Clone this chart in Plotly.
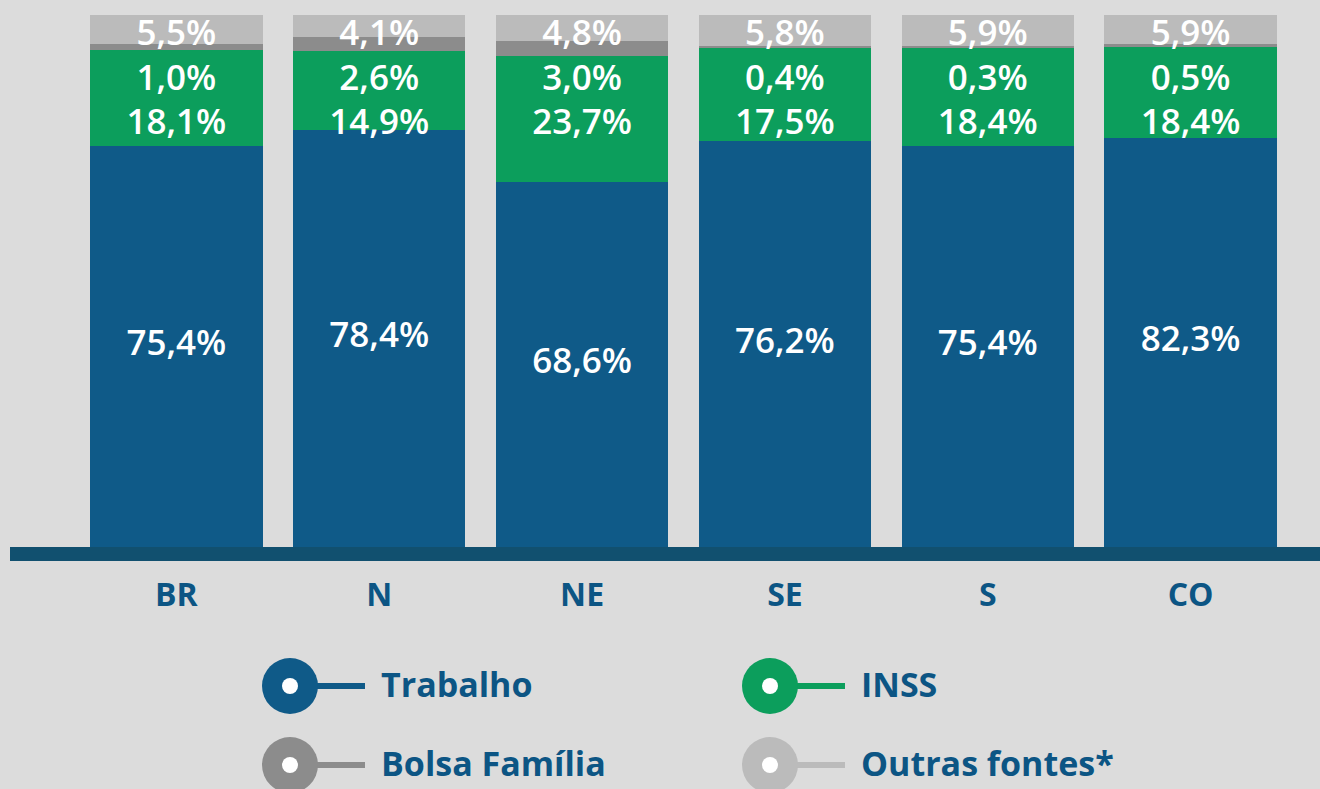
import plotly.graph_objects as go

# ---- data ----
regions = ["BR", "N", "NE", "SE", "S", "CO"]
trabalho = [75.4, 78.4, 68.6, 76.2, 75.4, 82.3]
inss = [18.1, 14.9, 23.7, 17.5, 18.4, 18.4]
bolsa = [1.0, 2.6, 3.0, 0.4, 0.3, 0.5]
outras = [5.5, 4.1, 4.8, 5.8, 5.9, 5.9]
series_names = ["Trabalho", "INSS", "Bolsa Família", "Outras fontes*"]

# ---- style ----
colors = ["#0f5a88", "#0c9e5c", "#8c8c8c", "#bbbbbb"]
bg = "#dcdcdc"
text_blue = "#0c5584"
W, H = 1320, 789
L, R, T, B = 75, 28, 15, 242  # margins in px
plot_w, plot_h = W - L - R, H - T - B

def px_x(x):
    return (x - L) / plot_w

def px_y(y):
    return (H - B - y) / plot_h

series = [trabalho, inss, bolsa, outras]
fig = go.Figure()
for name, vals, col in zip(series_names, series, colors):
    fig.add_trace(go.Bar(x=regions, y=vals, name=name, marker=dict(color=col, line=dict(width=0)),
                         hoverinfo="skip", showlegend=False))

# label positions derived from the (normalised) stacks, spread so they do not collide
lab_x, lab_y, lab_t = [], [], []
gap = 8.4
top_cap = 96.0
for i, reg in enumerate(regions):
    vals = [s[i] for s in series]
    tot = sum(vals)
    cum, mids = 0, []
    for v in vals:
        mids.append((cum + v / 2) / tot * 100)
        cum += v
    prev = top_cap + gap
    for k in range(len(vals) - 1, -1, -1):
        y = min(mids[k], prev - gap)
        prev = y
        lab_x.append(reg)
        lab_y.append(y)
        lab_t.append(f"{vals[k]:.1f}%".replace(".", ","))

fig.add_trace(go.Scatter(x=lab_x, y=lab_y, text=lab_t, mode="text", hoverinfo="skip", showlegend=False,
                         textfont=dict(color="white", size=35, family="Open Sans", weight=600)))

shapes = []
# baseline bar
shapes.append(dict(type="rect", xref="paper", yref="paper", x0=px_x(10), x1=px_x(1320),
                   y0=px_y(561), y1=px_y(547), fillcolor="#11506f", line=dict(width=0), layer="above"))

annotations = []
legend_items = [(290, 686, 0), (770, 686, 1), (290, 765, 2), (770, 765, 3)]
for cx, cy, k in legend_items:
    col = colors[k]
    shapes.append(dict(type="line", xref="paper", yref="paper", x0=px_x(cx + 20), x1=px_x(cx + 75),
                       y0=px_y(cy), y1=px_y(cy), line=dict(color=col, width=6)))
    r = 28
    shapes.append(dict(type="circle", xref="paper", yref="paper", x0=px_x(cx - r), x1=px_x(cx + r),
                       y0=px_y(cy + r), y1=px_y(cy - r), fillcolor=col, line=dict(width=0)))
    r2 = 8
    shapes.append(dict(type="circle", xref="paper", yref="paper", x0=px_x(cx - r2), x1=px_x(cx + r2),
                       y0=px_y(cy + r2), y1=px_y(cy - r2), fillcolor="white", line=dict(width=0)))
    annotations.append(dict(xref="paper", yref="paper", x=px_x(cx + 89), y=px_y(cy - 2), text=series_names[k],
                            showarrow=False, xanchor="left", yanchor="middle",
                            font=dict(color=text_blue, size=34, family="Open Sans", weight=700)))

fig.update_layout(
    width=W, height=H,
    margin=dict(l=L, r=R, t=T, b=B),
    paper_bgcolor=bg, plot_bgcolor=bg,
    barmode="stack", barnorm="percent", bargap=0.15,
    shapes=shapes, annotations=annotations,
    xaxis=dict(showgrid=False, zeroline=False, showline=False, ticks="",
               tickfont=dict(color=text_blue, size=32, family="Open Sans", weight=700),
               ticklabelstandoff=26, fixedrange=True),
    yaxis=dict(range=[0, 100], visible=False, fixedrange=True),
)

fig.write_html("out.html", config={"displayModeBar": False},
               post_script="document.body.style.margin='0';document.body.style.background='" + bg + "';")
